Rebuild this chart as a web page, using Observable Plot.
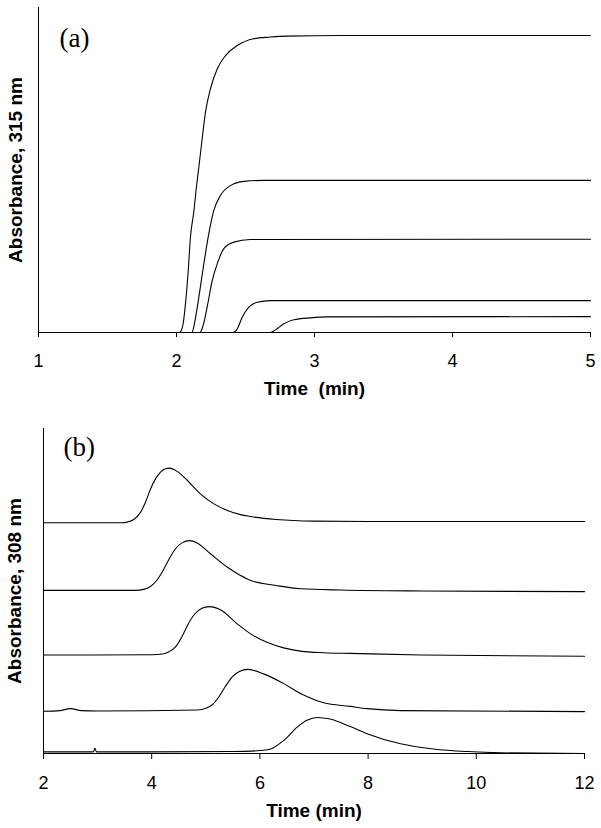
<!DOCTYPE html>
<html><head><meta charset="utf-8">
<script src="https://cdn.jsdelivr.net/npm/d3@7"></script>
<script src="https://cdn.jsdelivr.net/npm/@observablehq/plot@0.6"></script>
<style>
body{margin:0;background:#fff;}
#wrap{position:relative;width:601px;height:828px;background:#fff;}
#wrap svg{position:absolute;left:0;}
#wrap text{white-space:pre;}
</style></head><body><div id="wrap"></div>
<script>
// ---- Panel (a): Absorbance at 315 nm vs time (min)
const ticksA = [1, 2, 3, 4, 5];
const domainA = [1, 5];
const a1 = [[1,0],[2.02,0],[2.035,0.006],[2.048,0.027],[2.065,0.088],[2.085,0.19],[2.101,0.293],[2.125,0.37],[2.145,0.45],[2.165,0.52],[2.186,0.596],[2.21,0.678],[2.246,0.75],[2.295,0.811],[2.355,0.852],[2.44,0.883],[2.56,0.904],[2.68,0.909],[2.8,0.912],[3.2,0.914],[4,0.914],[5,0.914]];
const a2 = [[1,0],[2.11,0],[2.12,0.008],[2.13,0.027],[2.162,0.109],[2.198,0.211],[2.234,0.304],[2.27,0.375],[2.319,0.422],[2.391,0.452],[2.488,0.465],[2.633,0.468],[5,0.468]];
const a3 = [[1,0],[2.17,0],[2.193,0.022],[2.222,0.078],[2.259,0.16],[2.295,0.211],[2.343,0.258],[2.415,0.278],[2.536,0.286],[5,0.287]];
const a4 = [[1,0],[2.41,0],[2.44,0.011],[2.476,0.047],[2.524,0.078],[2.585,0.093],[2.681,0.098],[5,0.098]];
const a5 = [[1,0],[2.68,0],[2.717,0.008],[2.778,0.027],[2.85,0.039],[2.97,0.045],[3.1,0.048],[5,0.049]];
const textA = {tag: "(a)", x: "Time  (min)", y: "Absorbance, 315 nm"};

// ---- Panel (b): Absorbance at 308 nm vs time (min)
const ticksB = [2, 4, 6, 8, 10, 12];
const domainB = [2, 12];
const b1 = [[2,0.71],[3.45,0.71],[3.547,0.712],[3.669,0.72],[3.793,0.742],[3.885,0.773],[3.978,0.814],[4.07,0.845],[4.163,0.866],[4.255,0.876],[4.33,0.878],[4.47,0.868],[4.66,0.84],[4.9,0.799],[5.15,0.768],[5.4,0.748],[5.64,0.735],[5.83,0.729],[6.3,0.72],[7,0.715],[8,0.714],[12,0.714]];
const b2 = [[2,0.502],[3.7,0.502],[3.85,0.505],[3.97,0.513],[4.08,0.53],[4.2,0.56],[4.32,0.598],[4.44,0.63],[4.56,0.648],[4.7,0.655],[4.84,0.648],[5.09,0.614],[5.4,0.573],[5.64,0.548],[5.83,0.532],[6.3,0.517],[6.75,0.507],[7.5,0.503],[9,0.5],[12,0.498]];
const b3 = [[2,0.303],[4,0.304],[4.2,0.306],[4.32,0.313],[4.44,0.328],[4.56,0.36],[4.68,0.4],[4.8,0.43],[4.93,0.447],[5.06,0.452],[5.27,0.442],[5.58,0.399],[5.83,0.368],[6.13,0.342],[6.44,0.325],[6.75,0.315],[7.18,0.31],[7.67,0.308],[9,0.303],[12,0.299]];
const b4 = [[2,0.13],[2.3,0.132],[2.5,0.138],[2.7,0.132],[3,0.131],[4.85,0.134],[5,0.139],[5.12,0.15],[5.24,0.174],[5.36,0.206],[5.49,0.236],[5.62,0.252],[5.78,0.259],[6.07,0.245],[6.44,0.215],[6.78,0.182],[7.18,0.156],[7.67,0.145],[7.98,0.138],[8.6,0.132],[12,0.129]];
const b5 = [[2,0.005],[2.92,0.005],[2.95,0.016],[2.98,0.005],[4,0.005],[5.5,0.006],[6,0.009],[6.2,0.014],[6.44,0.04],[6.69,0.081],[6.87,0.102],[7.06,0.111],[7.3,0.106],[7.67,0.083],[7.98,0.061],[8.6,0.03],[9.21,0.014],[9.83,0.006],[10.45,0.002],[12,0]];
const textB = {tag: "(b)", x: "Time (min)", y: "Absorbance, 308 nm"};

const sans = "'Liberation Sans', Arial, Helvetica, sans-serif";
const serif = "'Liberation Serif', 'Times New Roman', serif";

function panel(o) {
  const rows = o.series.flatMap((s, i) => s.map(([t, v]) => ({id: i, t, v})));
  return Plot.plot({
    width: 601, height: o.height,
    marginLeft: o.ml, marginRight: o.mr, marginTop: o.mt, marginBottom: o.mb,
    style: {fontFamily: sans, fontSize: "18px", color: "#000", background: "#fff", overflow: "visible"},
    x: {domain: o.domain, ticks: o.ticks, tickSize: o.tickSize, tickPadding: o.tickPadding, tickFormat: d => String(d), label: null},
    y: {domain: [0, 1], axis: null},
    marks: [
      Plot.ruleX([o.domain[0]], {y1: 0, y2: 1, stroke: "#000", strokeWidth: 1}),
      Plot.ruleY([0], {x1: o.domain[0], x2: o.domain[1], stroke: "#000", strokeWidth: 1}),
      Plot.line(rows, {x: "t", y: "v", z: "id", curve: "monotone-x", stroke: "#000", strokeWidth: 1.1}),
      Plot.text([o.text.x], {text: d => d, frameAnchor: "bottom", textAnchor: "middle", lineAnchor: "middle", dy: o.xLabelDy, fontWeight: "bold", fontSize: 19}),
      Plot.text([o.text.y], {text: d => d, frameAnchor: "left", textAnchor: "middle", lineAnchor: "middle", dx: o.yLabelDx, rotate: -90, fontWeight: "bold", fontSize: 19}),
      Plot.text([o.text.tag], {text: d => d, frameAnchor: "top-left", textAnchor: "start", lineAnchor: "middle", dx: o.tagDx, dy: o.tagDy, fontFamily: serif, fontSize: 27})
    ]
  });
}

const wrap = document.getElementById("wrap");
const pa = panel({series: [a1, a2, a3, a4, a5], domain: domainA, ticks: ticksA, text: textA,
  height: 415, ml: 38, mr: 11, mt: 7, mb: 83, tickSize: 5, tickPadding: 17,
  xLabelDy: 56, yLabelDx: -23, tagDx: 21, tagDy: 31});
pa.style.top = "0px";
wrap.appendChild(pa);
const pb = panel({series: [b1, b2, b3, b4, b5], domain: domainB, ticks: ticksB, text: textB,
  height: 413, ml: 43, mr: 17, mt: 13, mb: 75, tickSize: 6, tickPadding: 17,
  xLabelDy: 57, yLabelDx: -28.5, tagDx: 20, tagDy: 19});
pb.style.top = "415px";
wrap.appendChild(pb);
</script></body></html>
